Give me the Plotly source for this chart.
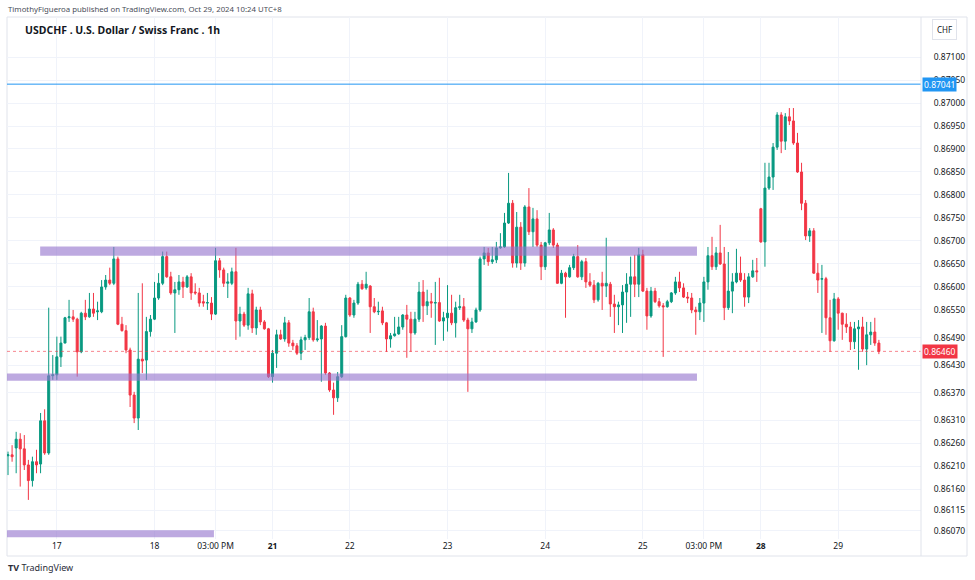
import plotly.graph_objects as go
from datetime import datetime, timedelta

# ---------------- data (USDCHF 1h) ----------------
open_ = [
    0.86233, 0.86235, 0.86250, 0.86269, 0.86248, 0.86213, 0.86179, 0.86220, 0.86215, 0.86309,
    0.86239, 0.86407, 0.86409, 0.86448, 0.86478, 0.86533, 0.86535, 0.86530, 0.86459, 0.86543,
    0.86535, 0.86552, 0.86546, 0.86546, 0.86600, 0.86615, 0.86608, 0.86661, 0.86519, 0.86505,
    0.86463, 0.86365, 0.86315, 0.86443, 0.86441, 0.86503, 0.86530, 0.86576, 0.86608, 0.86666,
    0.86622, 0.86587, 0.86594, 0.86611, 0.86600, 0.86622, 0.86589, 0.86587, 0.86568, 0.86565,
    0.86565, 0.86541, 0.86657, 0.86637, 0.86608, 0.86608, 0.86633, 0.86526, 0.86541, 0.86517,
    0.86585, 0.86511, 0.86550, 0.86524, 0.86509, 0.86405, 0.86456, 0.86496, 0.86487, 0.86522,
    0.86478, 0.86472, 0.86456, 0.86485, 0.86490, 0.86546, 0.86485, 0.86487, 0.86515, 0.86413,
    0.86376, 0.86359, 0.86405, 0.86492, 0.86576, 0.86539, 0.86565, 0.86606, 0.86598, 0.86602,
    0.86557, 0.86546, 0.86548, 0.86522, 0.86487, 0.86494, 0.86498, 0.86513, 0.86539, 0.86530,
    0.86500, 0.86530, 0.86589, 0.86559, 0.86568, 0.86565, 0.86566, 0.86526, 0.86533, 0.86543,
    0.86522, 0.86555, 0.86557, 0.86528, 0.86509, 0.86524, 0.86550, 0.86661, 0.86674, 0.86655,
    0.86659, 0.86685, 0.86687, 0.86739, 0.86782, 0.86652, 0.86730, 0.86652, 0.86774, 0.86720,
    0.86748, 0.86691, 0.86644, 0.86696, 0.86724, 0.86691, 0.86608, 0.86630, 0.86622, 0.86642,
    0.86666, 0.86622, 0.86655, 0.86611, 0.86604, 0.86572, 0.86608, 0.86602, 0.86606, 0.86563,
    0.86557, 0.86561, 0.86589, 0.86606, 0.86622, 0.86606, 0.86670, 0.86591, 0.86537, 0.86591,
    0.86568, 0.86559, 0.86557, 0.86568, 0.86587, 0.86611, 0.86598, 0.86578, 0.86576, 0.86550,
    0.86546, 0.86565, 0.86611, 0.86668, 0.86644, 0.86674, 0.86650, 0.86555, 0.86591, 0.86611,
    0.86630, 0.86615, 0.86578, 0.86622, 0.86635, 0.86770, 0.86698, 0.86815, 0.86839, 0.86904,
    0.86974, 0.86917, 0.86970, 0.86961, 0.86913, 0.86850, 0.86782, 0.86711, 0.86722, 0.86630,
    0.86617, 0.86618, 0.86533, 0.86483, 0.86574, 0.86543, 0.86519, 0.86513, 0.86481, 0.86509,
    0.86513, 0.86465, 0.86496, 0.86502, 0.86478,
]
high = [
    0.86242, 0.86256, 0.86285, 0.86282, 0.86278, 0.86224, 0.86231, 0.86246, 0.86326, 0.86334,
    0.86555, 0.86452, 0.86492, 0.86492, 0.86535, 0.86572, 0.86550, 0.86533, 0.86546, 0.86572,
    0.86587, 0.86587, 0.86568, 0.86615, 0.86626, 0.86642, 0.86687, 0.86666, 0.86535, 0.86517,
    0.86468, 0.86372, 0.86587, 0.86608, 0.86535, 0.86539, 0.86611, 0.86630, 0.86677, 0.86677,
    0.86633, 0.86611, 0.86626, 0.86622, 0.86626, 0.86630, 0.86608, 0.86598, 0.86583, 0.86587,
    0.86578, 0.86685, 0.86663, 0.86642, 0.86630, 0.86642, 0.86685, 0.86557, 0.86546, 0.86598,
    0.86594, 0.86557, 0.86557, 0.86528, 0.86511, 0.86463, 0.86507, 0.86507, 0.86535, 0.86528,
    0.86485, 0.86478, 0.86492, 0.86496, 0.86576, 0.86555, 0.86528, 0.86517, 0.86522, 0.86415,
    0.86392, 0.86415, 0.86517, 0.86583, 0.86578, 0.86572, 0.86611, 0.86615, 0.86633, 0.86604,
    0.86576, 0.86568, 0.86557, 0.86524, 0.86500, 0.86535, 0.86535, 0.86541, 0.86561, 0.86546,
    0.86546, 0.86611, 0.86615, 0.86594, 0.86587, 0.86611, 0.86620, 0.86546, 0.86604, 0.86583,
    0.86568, 0.86583, 0.86576, 0.86533, 0.86533, 0.86555, 0.86666, 0.86687, 0.86685, 0.86687,
    0.86698, 0.86717, 0.86761, 0.86848, 0.86789, 0.86763, 0.86741, 0.86778, 0.86815, 0.86772,
    0.86767, 0.86698, 0.86698, 0.86761, 0.86728, 0.86696, 0.86637, 0.86633, 0.86648, 0.86672,
    0.86691, 0.86659, 0.86663, 0.86630, 0.86615, 0.86611, 0.86633, 0.86707, 0.86611, 0.86583,
    0.86568, 0.86604, 0.86630, 0.86666, 0.86670, 0.86685, 0.86681, 0.86598, 0.86600, 0.86598,
    0.86576, 0.86565, 0.86572, 0.86589, 0.86622, 0.86633, 0.86608, 0.86589, 0.86587, 0.86557,
    0.86576, 0.86622, 0.86687, 0.86709, 0.86687, 0.86735, 0.86687, 0.86676, 0.86630, 0.86683,
    0.86666, 0.86630, 0.86630, 0.86659, 0.86663, 0.86772, 0.86870, 0.86870, 0.86913, 0.86980,
    0.86980, 0.86978, 0.86989, 0.86989, 0.86935, 0.86870, 0.86789, 0.86728, 0.86728, 0.86652,
    0.86648, 0.86622, 0.86572, 0.86587, 0.86578, 0.86544, 0.86543, 0.86524, 0.86524, 0.86528,
    0.86535, 0.86524, 0.86524, 0.86533, 0.86485,
]
low = [
    0.86191, 0.86220, 0.86195, 0.86166, 0.86202, 0.86137, 0.86166, 0.86195, 0.86195, 0.86235,
    0.86235, 0.86398, 0.86398, 0.86426, 0.86478, 0.86524, 0.86524, 0.86405, 0.86456, 0.86528,
    0.86533, 0.86535, 0.86528, 0.86543, 0.86594, 0.86604, 0.86604, 0.86517, 0.86503, 0.86456,
    0.86339, 0.86304, 0.86289, 0.86413, 0.86398, 0.86492, 0.86528, 0.86572, 0.86604, 0.86620,
    0.86583, 0.86500, 0.86583, 0.86576, 0.86598, 0.86572, 0.86583, 0.86557, 0.86557, 0.86550,
    0.86528, 0.86539, 0.86620, 0.86600, 0.86576, 0.86604, 0.86485, 0.86492, 0.86513, 0.86507,
    0.86500, 0.86496, 0.86517, 0.86507, 0.86402, 0.86392, 0.86424, 0.86485, 0.86481, 0.86470,
    0.86463, 0.86452, 0.86441, 0.86463, 0.86485, 0.86481, 0.86481, 0.86394, 0.86409, 0.86372,
    0.86322, 0.86350, 0.86402, 0.86490, 0.86535, 0.86533, 0.86561, 0.86594, 0.86594, 0.86500,
    0.86543, 0.86539, 0.86517, 0.86459, 0.86468, 0.86492, 0.86496, 0.86507, 0.86446, 0.86459,
    0.86496, 0.86524, 0.86524, 0.86539, 0.86533, 0.86474, 0.86524, 0.86483, 0.86503, 0.86517,
    0.86490, 0.86550, 0.86524, 0.86372, 0.86500, 0.86522, 0.86546, 0.86648, 0.86646, 0.86650,
    0.86652, 0.86683, 0.86685, 0.86737, 0.86642, 0.86642, 0.86637, 0.86644, 0.86713, 0.86687,
    0.86687, 0.86615, 0.86637, 0.86691, 0.86685, 0.86607, 0.86606, 0.86533, 0.86620, 0.86637,
    0.86620, 0.86615, 0.86598, 0.86600, 0.86565, 0.86568, 0.86550, 0.86578, 0.86535, 0.86500,
    0.86517, 0.86500, 0.86522, 0.86535, 0.86578, 0.86578, 0.86589, 0.86507, 0.86533, 0.86565,
    0.86555, 0.86448, 0.86555, 0.86565, 0.86583, 0.86589, 0.86576, 0.86565, 0.86543, 0.86496,
    0.86528, 0.86524, 0.86594, 0.86637, 0.86637, 0.86648, 0.86528, 0.86550, 0.86543, 0.86608,
    0.86611, 0.86557, 0.86565, 0.86620, 0.86611, 0.86696, 0.86644, 0.86811, 0.86811, 0.86898,
    0.86891, 0.86898, 0.86952, 0.86909, 0.86848, 0.86767, 0.86702, 0.86698, 0.86629, 0.86587,
    0.86500, 0.86496, 0.86459, 0.86481, 0.86507, 0.86485, 0.86500, 0.86463, 0.86465, 0.86420,
    0.86459, 0.86430, 0.86474, 0.86472, 0.86454,
]
close = [
    0.86235, 0.86231, 0.86269, 0.86248, 0.86213, 0.86179, 0.86220, 0.86213, 0.86309, 0.86239,
    0.86407, 0.86409, 0.86448, 0.86478, 0.86533, 0.86535, 0.86530, 0.86459, 0.86543, 0.86535,
    0.86552, 0.86543, 0.86548, 0.86600, 0.86615, 0.86608, 0.86661, 0.86519, 0.86505, 0.86463,
    0.86365, 0.86315, 0.86443, 0.86439, 0.86503, 0.86530, 0.86576, 0.86608, 0.86666, 0.86622,
    0.86587, 0.86594, 0.86611, 0.86600, 0.86622, 0.86587, 0.86587, 0.86565, 0.86565, 0.86566,
    0.86541, 0.86657, 0.86637, 0.86608, 0.86611, 0.86633, 0.86526, 0.86541, 0.86517, 0.86585,
    0.86511, 0.86550, 0.86524, 0.86509, 0.86405, 0.86456, 0.86496, 0.86487, 0.86522, 0.86478,
    0.86472, 0.86456, 0.86485, 0.86490, 0.86546, 0.86485, 0.86487, 0.86515, 0.86413, 0.86376,
    0.86359, 0.86405, 0.86492, 0.86576, 0.86539, 0.86565, 0.86606, 0.86596, 0.86606, 0.86557,
    0.86546, 0.86547, 0.86522, 0.86487, 0.86494, 0.86498, 0.86513, 0.86539, 0.86530, 0.86500,
    0.86530, 0.86589, 0.86559, 0.86568, 0.86565, 0.86566, 0.86526, 0.86533, 0.86543, 0.86522,
    0.86555, 0.86557, 0.86528, 0.86509, 0.86524, 0.86550, 0.86661, 0.86674, 0.86655, 0.86659,
    0.86685, 0.86687, 0.86739, 0.86782, 0.86652, 0.86730, 0.86652, 0.86774, 0.86720, 0.86748,
    0.86691, 0.86644, 0.86696, 0.86724, 0.86691, 0.86608, 0.86630, 0.86622, 0.86642, 0.86666,
    0.86622, 0.86655, 0.86611, 0.86604, 0.86572, 0.86608, 0.86602, 0.86608, 0.86563, 0.86557,
    0.86561, 0.86589, 0.86606, 0.86622, 0.86606, 0.86670, 0.86591, 0.86537, 0.86591, 0.86568,
    0.86559, 0.86557, 0.86568, 0.86587, 0.86611, 0.86598, 0.86578, 0.86576, 0.86550, 0.86546,
    0.86565, 0.86611, 0.86668, 0.86644, 0.86674, 0.86650, 0.86555, 0.86591, 0.86611, 0.86630,
    0.86615, 0.86578, 0.86622, 0.86635, 0.86633, 0.86698, 0.86815, 0.86839, 0.86904, 0.86974,
    0.86917, 0.86970, 0.86961, 0.86913, 0.86850, 0.86782, 0.86711, 0.86722, 0.86630, 0.86615,
    0.86618, 0.86533, 0.86483, 0.86574, 0.86543, 0.86519, 0.86513, 0.86481, 0.86509, 0.86513,
    0.86465, 0.86496, 0.86502, 0.86478, 0.86460,
]
assert len(open_) == len(high) == len(low) == len(close) == 215

# y-axis tick values (as shown on the price scale)
price_ticks = [0.87100, 0.87050, 0.87000, 0.86950, 0.86900, 0.86850, 0.86800, 0.86750,
               0.86700, 0.86650, 0.86600, 0.86550, 0.86490, 0.86430, 0.86370, 0.86310,
               0.86260, 0.86210, 0.86160, 0.86115, 0.86070]

# time axis labels
tick_times = [datetime(2024, 10, 17, 0), datetime(2024, 10, 18, 0), datetime(2024, 10, 18, 15),
              datetime(2024, 10, 21, 5), datetime(2024, 10, 22, 0), datetime(2024, 10, 23, 0),
              datetime(2024, 10, 24, 0), datetime(2024, 10, 25, 0), datetime(2024, 10, 25, 15),
              datetime(2024, 10, 28, 5), datetime(2024, 10, 29, 0)]
tick_text = ["17", "18", "03:00 PM", "<b>21</b>", "22", "23", "24", "25", "03:00 PM",
             "<b>28</b>", "29"]

# horizontal levels
alert_level = 0.87041
last_price = 0.86460

# drawn zones: (top, bottom, start bar, end bar)
zone_top = [0.86688, 0.86412, 0.86071]
zone_bottom = [0.86668, 0.86396, 0.86056]
zone_start = [7.9, -0.3, -0.3]
zone_end = [169.3, 169.3, 50.6]

# ---------------- build ----------------
GREEN = "#089981"
RED = "#F23645"
GRID = "#f0f3fa"
TXT = "#131722"

start = datetime(2024, 10, 16, 12)
times = []
t = start
while len(times) < len(close):
    wd = t.weekday()
    weekend = (wd == 5 and t.hour >= 5) or wd == 6 or (wd == 0 and t.hour < 5)
    if not weekend:
        times.append(t)
    t += timedelta(hours=1)
idx = list(range(len(times)))
tick_idx = [times.index(tt) for tt in tick_times]

W, H = 975, 580
L, R, T, B = 7, 54, 17, 41
PW, PH = W - L - R, H - T - B


def px_x(px):
    return (px - L) / PW


def px_y(py):
    return (H - B - py) / PH


fig = go.Figure()
fig.add_trace(go.Candlestick(
    x=idx, open=open_, high=high, low=low, close=close,
    increasing=dict(line=dict(color=GREEN, width=1), fillcolor=GREEN),
    decreasing=dict(line=dict(color=RED, width=1), fillcolor=RED),
    whiskerwidth=0, hoverinfo="skip", showlegend=False,
))

shapes = []
for top, bot, x0, x1 in zip(zone_top, zone_bottom, zone_start, zone_end):
    shapes.append(dict(type="rect", xref="x", yref="y", x0=x0, x1=x1, y0=bot, y1=top,
                       fillcolor="rgba(149,117,205,0.62)", line=dict(width=0), layer="above"))
shapes.append(dict(type="line", xref="paper", yref="y", x0=0, x1=1, y0=alert_level, y1=alert_level,
                   line=dict(color="#2196F3", width=1)))
shapes.append(dict(type="line", xref="paper", yref="y", x0=0, x1=1, y0=last_price, y1=last_price,
                   line=dict(color="rgba(242,54,69,0.6)", width=1, dash="dot")))
# chart frame
shapes.append(dict(type="rect", xref="paper", yref="paper", x0=px_x(7), x1=px_x(967),
                   y0=px_y(556), y1=px_y(17), line=dict(color="#e0e3eb", width=1),
                   fillcolor="rgba(0,0,0,0)", layer="below"))
shapes.append(dict(type="line", xref="paper", yref="paper", x0=px_x(921), x1=px_x(921),
                   y0=px_y(556), y1=px_y(17), line=dict(color="#e0e3eb", width=1)))

annotations = [
    dict(text="TimothyFigueroa published on TradingView.com, Oct 29, 2024 10:24 UTC+8",
         xref="paper", yref="paper", x=px_x(6), y=px_y(9), xanchor="left", yanchor="middle",
         showarrow=False, font=dict(size=7.8, color="#4a4e59")),
    dict(text="<b>USDCHF . U.S. Dollar / Swiss Franc . 1h</b>",
         xref="paper", yref="paper", x=px_x(23), y=px_y(30), xanchor="left", yanchor="middle",
         showarrow=False, font=dict(size=10.5, color=TXT)),
    dict(text="CHF", xref="paper", yref="paper", x=px_x(944), y=px_y(30),
         xanchor="center", yanchor="middle", showarrow=False,
         font=dict(size=8, color=TXT), bordercolor="#e0e3eb", borderwidth=1, borderpad=4,
         bgcolor="white"),
    dict(text=f"{alert_level:.5f}", xref="paper", yref="y", x=px_x(922), y=alert_level,
         xanchor="left", yanchor="middle", showarrow=False, bgcolor="#2196F3",
         font=dict(size=8.5, color="white"), borderpad=1),
    dict(text=f"{last_price:.5f}", xref="paper", yref="y", x=px_x(922), y=last_price,
         xanchor="left", yanchor="middle", showarrow=False, bgcolor=RED,
         font=dict(size=8.5, color="white"), borderpad=1),
    dict(text="<b>TV</b> TradingView", xref="paper", yref="paper", x=px_x(6), y=px_y(567),
         xanchor="left", yanchor="middle", showarrow=False, font=dict(size=9, color="#2a2e39")),
]

fig.update_layout(
    width=W, height=H,
    margin=dict(l=L, r=R, t=T, b=B),
    paper_bgcolor="white", plot_bgcolor="white",
    font=dict(family="Noto Sans, Open Sans, sans-serif", color=TXT),
    shapes=shapes, annotations=annotations,
    xaxis=dict(range=[-0.25, 224.35], rangeslider=dict(visible=False),
               tickmode="array", tickvals=tick_idx, ticktext=tick_text,
               showgrid=True, gridcolor=GRID, gridwidth=1, zeroline=False,
               showline=False, ticks="", tickfont=dict(size=8.5, color=TXT)),
    yaxis=dict(range=[0.86052, 0.87187], side="right", tickmode="array",
               tickvals=price_ticks, ticktext=[f"{v:.5f}" for v in price_ticks],
               showgrid=True, gridcolor=GRID, gridwidth=1, zeroline=False,
               showline=False, ticks="outside", ticklen=10, tickcolor="rgba(0,0,0,0)",
               tickfont=dict(size=8.5, color=TXT)),
    showlegend=False,
)

fig.write_html("out.html")
